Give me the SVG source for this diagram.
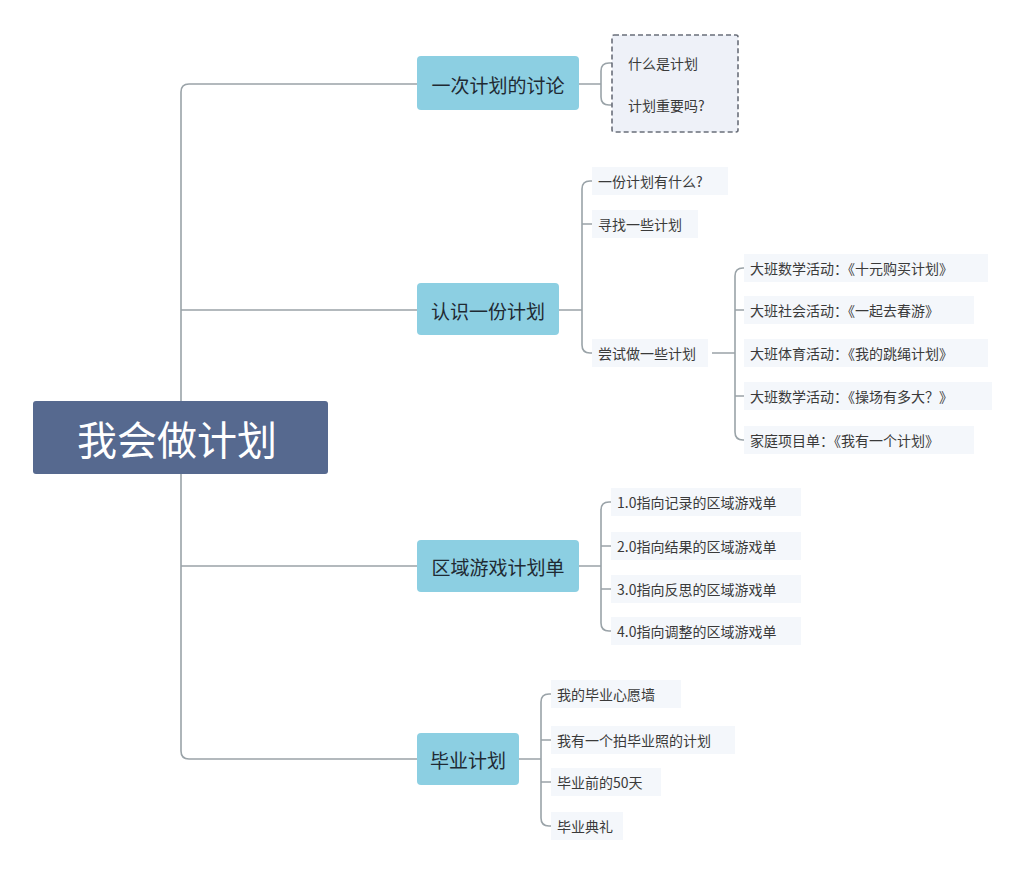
<svg xmlns="http://www.w3.org/2000/svg" width="1023" height="874" viewBox="0 0 1023 874">
<style>
.ln{fill:none;stroke:#9aa3a8;stroke-width:1.6}
.br{fill:#8ccfe2;}
.bt{font-family:"Noto Sans CJK SC",sans-serif;font-size:19px;fill:#1f2a33;dominant-baseline:central}
.ct{font-family:"Noto Sans CJK SC",sans-serif;font-size:14px;fill:#3a3a3a;dominant-baseline:central}
.cb{fill:#f4f7fb}
</style>
<rect width="1023" height="874" fill="#ffffff"/>
<g id="connectors">
<path class="ln" d="M328,438 H181 M417,84 H189 Q181,84 181,92 V751 Q181,759 189,759 H417 M181,310 H417 M181,566 H417"/>
<path class="ln" d="M579,84 H601 M609,63 Q601,63 601,71 V97 Q601,105 609,105 H616 M609,63 H616"/>
<path class="ln" d="M559,310 H582 M590,181 Q582,181 582,189 V345 Q582,353 590,353 H594 M590,181 H594 M582,224 H594"/>
<path class="ln" d="M712,353 H735 M743,268 Q735,268 735,276 V432 Q735,440 743,440 H747 M743,268 H747 M735,310 H747 M735,396 H747"/>
<path class="ln" d="M579,566 H601 M609,502 Q601,502 601,510 V623 Q601,631 609,631 H613 M609,502 H613 M601,546 H613 M601,589 H613"/>
<path class="ln" d="M519,759 H541 M549,694 Q541,694 541,702 V818 Q541,826 549,826 H553 M549,694 H553 M541,740 H553 M541,782 H553"/>
</g>
<g id="root"><rect x="33" y="401" width="295" height="73" rx="3" fill="#56698f"/><text x="177" y="438" font-family="Noto Sans CJK SC,sans-serif" font-size="40" fill="#ffffff" text-anchor="middle" dominant-baseline="central">我会做计划</text></g>
<g id="b1"><rect class="br" x="417" y="56" width="162" height="54" rx="4"/><text class="bt" x="498" y="84" text-anchor="middle">一次计划的讨论</text></g>
<g id="b2"><rect class="br" x="417" y="283" width="142" height="52" rx="4"/><text class="bt" x="488" y="310" text-anchor="middle">认识一份计划</text></g>
<g id="b3"><rect class="br" x="417" y="540" width="162" height="52" rx="4"/><text class="bt" x="498" y="566" text-anchor="middle">区域游戏计划单</text></g>
<g id="b4"><rect class="br" x="417" y="733" width="102" height="52" rx="4"/><text class="bt" x="468" y="759" text-anchor="middle">毕业计划</text></g>
<g id="g1"><rect x="612" y="35" width="126" height="97" rx="2" fill="#eef1f8" stroke="#6a6f7a" stroke-width="1.6" stroke-dasharray="5,3"/>
<text class="ct" x="628" y="63">什么是计划</text><text class="ct" x="628" y="105">计划重要吗?</text></g>
<g id="g2">
<rect class="cb" x="592" y="167" width="136" height="28"/><text class="ct" x="598" y="181">一份计划有什么?</text>
<rect class="cb" x="592" y="210" width="106" height="28"/><text class="ct" x="598" y="224">寻找一些计划</text>
<rect class="cb" x="592" y="339" width="116" height="28"/><text class="ct" x="598" y="353">尝试做一些计划</text>
</g>
<g id="g2b">
<rect class="cb" x="744" y="254" width="244" height="28"/><text class="ct" x="750" y="268">大班数学活动：《十元购买计划》</text>
<rect class="cb" x="744" y="296" width="230" height="28"/><text class="ct" x="750" y="310">大班社会活动：《一起去春游》</text>
<rect class="cb" x="744" y="339" width="244" height="28"/><text class="ct" x="750" y="353">大班体育活动：《我的跳绳计划》</text>
<rect class="cb" x="744" y="382" width="248" height="28"/><text class="ct" x="750" y="396">大班数学活动：《操场有多大？》</text>
<rect class="cb" x="744" y="426" width="230" height="28"/><text class="ct" x="750" y="440">家庭项目单：《我有一个计划》</text>
</g>
<g id="g3">
<rect class="cb" x="611" y="488" width="190" height="28"/><text class="ct" x="617" y="502">1.0指向记录的区域游戏单</text>
<rect class="cb" x="611" y="532" width="190" height="28"/><text class="ct" x="617" y="546">2.0指向结果的区域游戏单</text>
<rect class="cb" x="611" y="575" width="190" height="28"/><text class="ct" x="617" y="589">3.0指向反思的区域游戏单</text>
<rect class="cb" x="611" y="617" width="190" height="28"/><text class="ct" x="617" y="631">4.0指向调整的区域游戏单</text>
</g>
<g id="g4">
<rect class="cb" x="551" y="680" width="130" height="28"/><text class="ct" x="557" y="694">我的毕业心愿墙</text>
<rect class="cb" x="551" y="726" width="184" height="28"/><text class="ct" x="557" y="740">我有一个拍毕业照的计划</text>
<rect class="cb" x="551" y="768" width="110" height="28"/><text class="ct" x="557" y="782">毕业前的50天</text>
<rect class="cb" x="551" y="812" width="72" height="28"/><text class="ct" x="557" y="826">毕业典礼</text>
</g>
</svg>
